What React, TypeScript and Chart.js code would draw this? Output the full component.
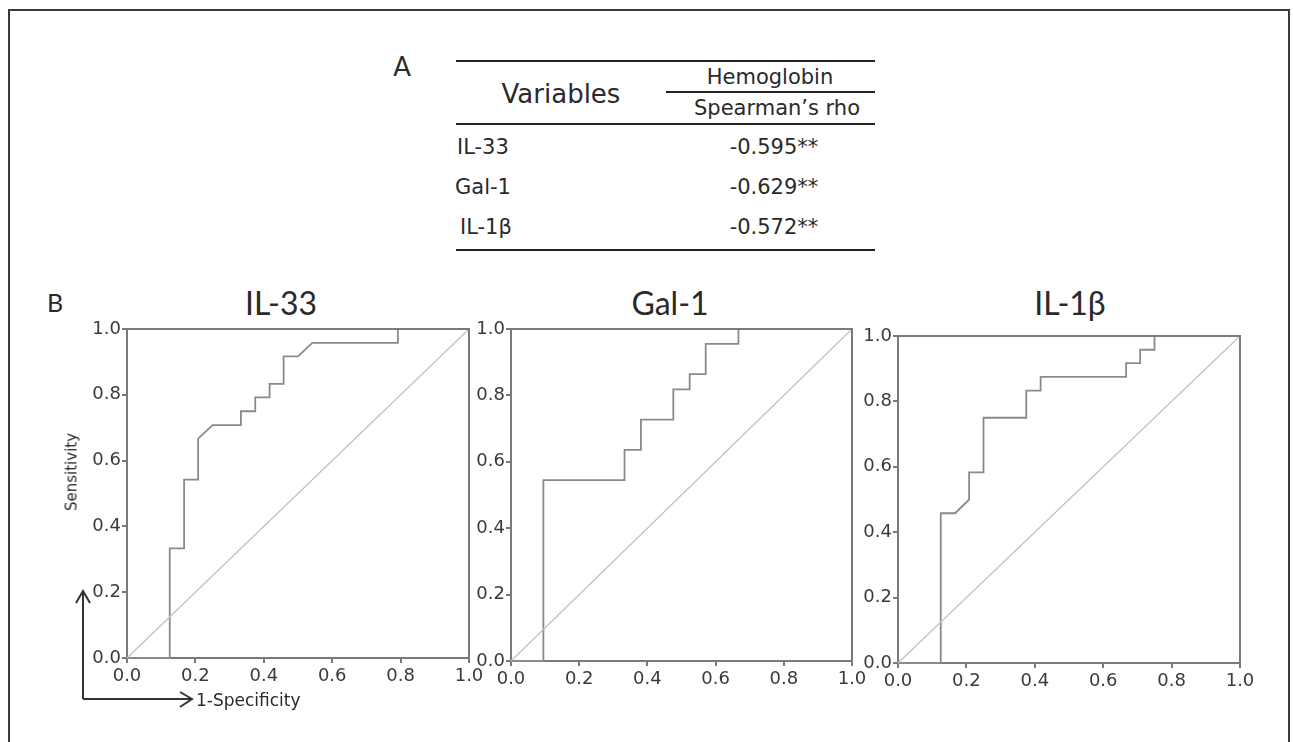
import React, { useEffect, useRef } from "react";
import { Chart, registerables } from "chart.js";
Chart.register(...registerables);

// ---------- data ----------
const tickValues = [0, 0.2, 0.4, 0.6, 0.8, 1.0];
const panelTitles = ["IL-33", "Gal-1", "IL-1β"];

const il33Fpr = [0, 0.125, 0.125, 0.167, 0.167, 0.208, 0.208, 0.25, 0.333, 0.333, 0.375, 0.375, 0.417, 0.417, 0.458, 0.458, 0.5, 0.542, 0.792, 0.792, 1];
const il33Tpr = [0, 0, 0.333, 0.333, 0.542, 0.542, 0.667, 0.708, 0.708, 0.75, 0.75, 0.792, 0.792, 0.833, 0.833, 0.917, 0.917, 0.958, 0.958, 1, 1];

const gal1Fpr = [0, 0.095, 0.095, 0.333, 0.333, 0.381, 0.381, 0.476, 0.476, 0.524, 0.524, 0.571, 0.571, 0.667, 0.667, 1];
const gal1Tpr = [0, 0, 0.545, 0.545, 0.636, 0.636, 0.727, 0.727, 0.818, 0.818, 0.864, 0.864, 0.955, 0.955, 1, 1];

const il1bFpr = [0, 0.125, 0.125, 0.167, 0.208, 0.208, 0.25, 0.25, 0.375, 0.375, 0.417, 0.417, 0.667, 0.667, 0.708, 0.708, 0.75, 0.75, 1];
const il1bTpr = [0, 0, 0.458, 0.458, 0.5, 0.583, 0.583, 0.75, 0.75, 0.833, 0.833, 0.875, 0.875, 0.917, 0.917, 0.958, 0.958, 1, 1];

const diagonalX = [0, 1];
const diagonalY = [0, 1];

const tableVariables = ["IL-33", "Gal-1", "IL-1β"];
const tableRho = ["-0.595**", "-0.629**", "-0.572**"];
const tableHeader = ["Variables", "Hemoglobin", "Spearman’s rho"];
const yAxisLabel = "Sensitivity";
const xAxisLabel = "1-Specificity";

// ---------- layout ----------
const TITLE_FONT = "Lato, 'Open Sans', sans-serif";
const BODY_FONT = "'DejaVu Sans', 'Open Sans', sans-serif";
const panels = [
  { left: 127, top: 329, w: 342, h: 329, titleX: 281 },
  { left: 511, top: 329, w: 341, h: 332, titleX: 670 },
  { left: 898, top: 336, w: 342, h: 327, titleX: 1070 },
];
const Y_W = 50, PAD_T = 14, PAD_R = 26, X_H = 40;

const framePlugin = {
  id: "frame",
  afterDatasetsDraw(chart: any) {
    const { ctx, chartArea } = chart;
    ctx.save();
    ctx.strokeStyle = "#7a7a7a";
    ctx.lineWidth = 2;
    ctx.beginPath();
    ctx.moveTo(chartArea.left, chartArea.top);
    ctx.lineTo(chartArea.right, chartArea.top);
    ctx.lineTo(chartArea.right, chartArea.bottom);
    ctx.stroke();
    ctx.restore();
  },
};

function axisOpts(isX: boolean) {
  return {
    type: "linear",
    min: 0,
    max: 1,
    afterFit: (s: any) => {
      if (isX) s.height = X_H;
      else s.width = Y_W;
    },
    afterBuildTicks: (s: any) => {
      s.ticks = tickValues.map((v) => ({ value: v }));
    },
    ticks: {
      callback: (v: any) => Number(v).toFixed(1),
      font: { family: BODY_FONT, size: 18 },
      color: "#3a3a3a",
      padding: isX ? 3 : 1,
      maxRotation: 0,
      autoSkip: false,
    },
    grid: {
      drawOnChartArea: false,
      drawTicks: true,
      tickLength: 5,
      color: "#7a7a7a",
      lineWidth: 2,
    },
    border: { color: "#7a7a7a", width: 2 },
  };
}

function RocPanel({ fpr, tpr, area }: any) {
  const ref = useRef<HTMLCanvasElement>(null);
  const cw = Y_W + area.w + PAD_R;
  const ch = PAD_T + area.h + X_H;
  useEffect(() => {
    const chart = new Chart(ref.current as HTMLCanvasElement, {
      type: "scatter",
      data: {
        datasets: [
          {
            data: diagonalX.map((x, i) => ({ x, y: diagonalY[i] })),
            showLine: true,
            borderColor: "#c2c2c2",
            borderWidth: 1.3,
            pointRadius: 0,
            clip: false,
          },
          {
            data: fpr.map((x: number, i: number) => ({ x, y: tpr[i] })),
            showLine: true,
            borderColor: "#8a8a8a",
            borderWidth: 1.8,
            pointRadius: 0,
            clip: false,
          },
        ],
      },
      options: {
        responsive: false,
        animation: false,
        devicePixelRatio: 1,
        layout: { padding: { top: PAD_T, right: PAD_R, left: 0, bottom: 0 } },
        plugins: {
          legend: { display: false },
          tooltip: { enabled: false },
          title: { display: false },
        },
        scales: { x: axisOpts(true), y: axisOpts(false) } as any,
      },
      plugins: [framePlugin],
    } as any);
    return () => chart.destroy();
  }, []);
  return (
    <canvas
      ref={ref}
      width={cw}
      height={ch}
      style={{ position: "absolute", left: area.left - Y_W, top: area.top - PAD_T, width: cw, height: ch }}
    />
  );
}

function Txt({ x, y, size, children, align = "center", rotate = 0, font = BODY_FONT, color = "#2a2a2a" }: any) {
  const tx = align === "center" ? "-50%" : "0";
  return (
    <div
      style={{
        position: "absolute",
        left: x,
        top: y,
        fontFamily: font,
        fontSize: size,
        lineHeight: 1,
        color,
        whiteSpace: "nowrap",
        transform: `translate(${tx}, -50%) rotate(${rotate}deg)`,
      }}
    >
      {children}
    </div>
  );
}

function Rule({ x1, x2, y }: any) {
  return <div style={{ position: "absolute", left: x1, top: y - 1, width: x2 - x1, height: 2, background: "#222" }} />;
}

export default function App() {
  const series = [
    [il33Fpr, il33Tpr],
    [gal1Fpr, gal1Tpr],
    [il1bFpr, il1bTpr],
  ];
  const rowY = [147, 187, 227];
  return (
    <div style={{ position: "fixed", left: 0, top: 0, width: 1293, height: 742, background: "#fff", overflow: "hidden" }}>
      <div
        style={{
          position: "absolute",
          left: 8,
          top: 9,
          width: 1282,
          height: 760,
          boxSizing: "border-box",
          border: "2px solid #3a3a3a",
        }}
      />
      {/* Panel A: table */}
      <Txt x={402} y={66} size={26} font={TITLE_FONT}>A</Txt>
      <Rule x1={456} x2={875} y={61} />
      <Txt x={561} y={94} size={26}>{tableHeader[0]}</Txt>
      <Txt x={770} y={77} size={21}>{tableHeader[1]}</Txt>
      <Rule x1={666} x2={875} y={92} />
      <Txt x={777} y={108} size={21}>{tableHeader[2]}</Txt>
      <Rule x1={456} x2={875} y={124} />
      {tableVariables.map((v, i) => (
        <Txt key={v} x={[457, 455, 460][i]} y={rowY[i]} size={21} align="left">{v}</Txt>
      ))}
      {tableRho.map((v, i) => (
        <Txt key={v} x={774} y={rowY[i]} size={21}>{v}</Txt>
      ))}
      <Rule x1={456} x2={875} y={250} />

      {/* Panel B */}
      <Txt x={55} y={302} size={25} font={TITLE_FONT}>B</Txt>
      {panels.map((p, i) => (
        <Txt key={i} x={p.titleX} y={303} size={32} font={TITLE_FONT}>{panelTitles[i]}</Txt>
      ))}
      {panels.map((p, i) => (
        <RocPanel key={i} fpr={series[i][0]} tpr={series[i][1]} area={p} />
      ))}
      <Txt x={72} y={472} size={15} rotate={-90}>{yAxisLabel}</Txt>
      <Txt x={196} y={700} size={17} align="left">{xAxisLabel}</Txt>
      <svg width={1293} height={742} style={{ position: "absolute", left: 0, top: 0, pointerEvents: "none" }}>
        <g stroke="#333" strokeWidth={2} fill="none">
          <polyline points="83,699 83,592" />
          <polyline points="76,603 83,591 90,603" />
          <polyline points="83,699 191,699" />
          <polyline points="180,692 192,699 180,707" />
        </g>
      </svg>
    </div>
  );
}
